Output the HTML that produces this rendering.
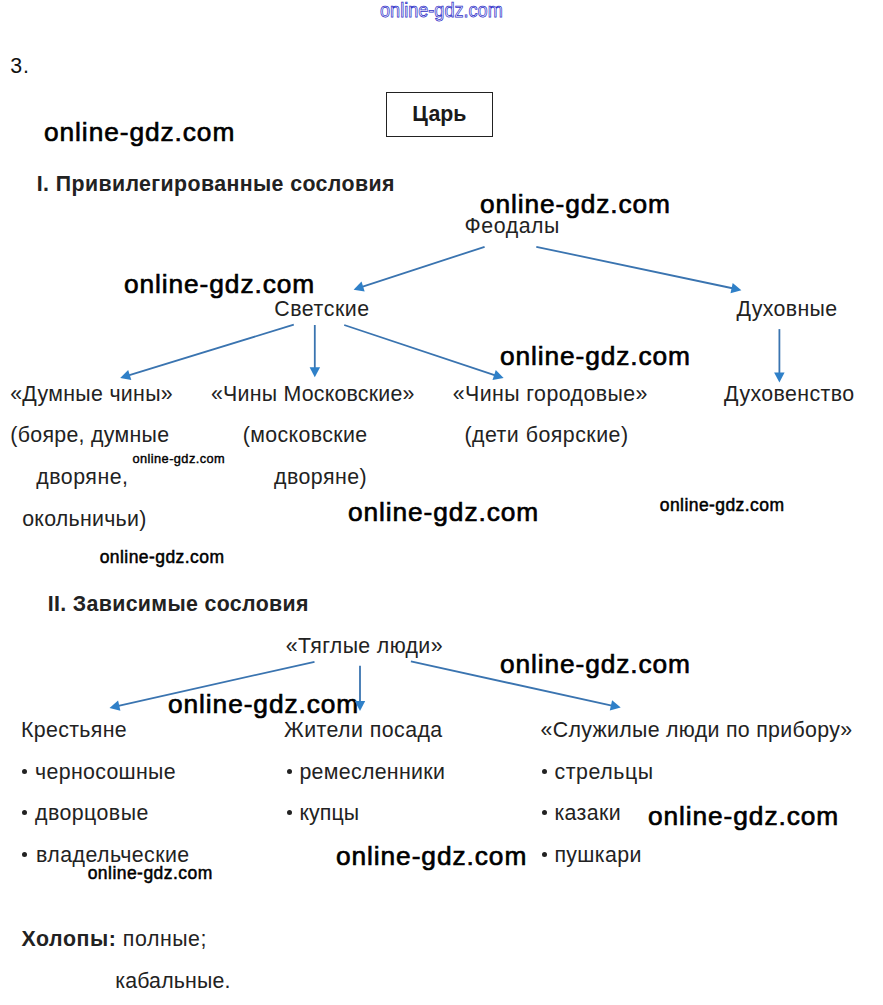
<!DOCTYPE html>
<html><head><meta charset="utf-8"><style>
html,body{margin:0;padding:0;background:#fff;}
body{width:883px;height:1005px;overflow:hidden;position:relative;font-family:"Liberation Sans",sans-serif;}
.t{position:absolute;font-size:21.33px;line-height:1;white-space:nowrap;color:#222;}
.b{font-weight:700;}
.w{position:absolute;line-height:1;white-space:nowrap;color:#000;font-weight:400;-webkit-text-stroke:0.7px #000;}
.dot{position:absolute;width:5.2px;height:5.2px;border-radius:50%;background:#222;}
.box{position:absolute;border:1.5px solid #222;box-sizing:border-box;}
svg{position:absolute;left:0;top:0;}
</style></head><body>

<div class="t" style="left:10.3px;top:55.6px;letter-spacing:0.900px;color:#111">3.</div>
<div class="t" style="left:412.3px;top:103.6px;letter-spacing:-0.133px;color:#1a1a1a"><span class="b">Царь</span></div>
<div class="t" style="left:36.8px;top:173.7px;letter-spacing:0.393px;color:#222"><span class="b">I. Привилегированные сословия</span></div>
<div class="t" style="left:464.6px;top:216.0px;letter-spacing:0.533px;color:#222">Феодалы</div>
<div class="t" style="left:274.2px;top:299.4px;letter-spacing:0.571px;color:#222">Светские</div>
<div class="t" style="left:736.5px;top:299.4px;letter-spacing:0.357px;color:#222">Духовные</div>
<div class="t" style="left:10.2px;top:383.5px;letter-spacing:0.308px;color:#222">«Думные чины»</div>
<div class="t" style="left:211.0px;top:383.5px;letter-spacing:0.231px;color:#222">«Чины Московские»</div>
<div class="t" style="left:452.7px;top:383.5px;letter-spacing:0.440px;color:#222">«Чины городовые»</div>
<div class="t" style="left:724.1px;top:383.5px;letter-spacing:0.400px;color:#222">Духовенство</div>
<div class="t" style="left:10.3px;top:425.2px;letter-spacing:0.300px;color:#222">(бояре, думные</div>
<div class="t" style="left:242.7px;top:425.2px;letter-spacing:0.380px;color:#222">(московские</div>
<div class="t" style="left:464.4px;top:425.2px;letter-spacing:0.500px;color:#222">(дети боярские)</div>
<div class="t" style="left:36.2px;top:466.7px;letter-spacing:0.529px;color:#222">дворяне,</div>
<div class="t" style="left:274.0px;top:466.7px;letter-spacing:0.486px;color:#222">дворяне)</div>
<div class="t" style="left:22.2px;top:508.7px;letter-spacing:0.280px;color:#222">окольничьи)</div>
<div class="t" style="left:47.7px;top:593.7px;letter-spacing:0.352px;color:#222"><span class="b">II. Зависимые сословия</span></div>
<div class="t" style="left:285.8px;top:635.6px;letter-spacing:0.367px;color:#222">«Тяглые люди»</div>
<div class="t" style="left:20.9px;top:719.7px;letter-spacing:0.363px;color:#222">Крестьяне</div>
<div class="t" style="left:284.0px;top:719.7px;letter-spacing:0.450px;color:#222">Жители посада</div>
<div class="t" style="left:540.6px;top:719.7px;letter-spacing:0.316px;color:#222">«Служилые люди по прибору»</div>
<div class="t" style="left:35.1px;top:761.7px;letter-spacing:0.320px;color:#222">черносошные</div>
<div class="t" style="left:35.0px;top:802.6px;letter-spacing:0.462px;color:#222">дворцовые</div>
<div class="t" style="left:36.0px;top:844.6px;letter-spacing:0.467px;color:#222">владельческие</div>
<div class="t" style="left:299.4px;top:761.7px;letter-spacing:0.318px;color:#222">ремесленники</div>
<div class="t" style="left:299.4px;top:802.6px;letter-spacing:0.100px;color:#222">купцы</div>
<div class="t" style="left:554.4px;top:761.7px;letter-spacing:0.600px;color:#222">стрельцы</div>
<div class="t" style="left:554.4px;top:802.6px;letter-spacing:0.380px;color:#222">казаки</div>
<div class="t" style="left:554.4px;top:844.6px;letter-spacing:0.383px;color:#222">пушкари</div>
<div class="t" style="left:21.5px;top:928.7px;letter-spacing:0.557px;color:#222"><span class="b">Холопы:</span> полные;</div>
<div class="t" style="left:115.2px;top:970.7px;letter-spacing:0.178px;color:#222">кабальные.</div>
<div class="dot" style="left:22.3px;top:769.0px"></div>
<div class="dot" style="left:22.3px;top:809.9px"></div>
<div class="dot" style="left:22.3px;top:851.9px"></div>
<div class="dot" style="left:286.8px;top:769.0px"></div>
<div class="dot" style="left:286.8px;top:809.9px"></div>
<div class="dot" style="left:541.8px;top:769.0px"></div>
<div class="dot" style="left:541.8px;top:809.9px"></div>
<div class="dot" style="left:541.8px;top:851.9px"></div>
<div class="box" style="left:386px;top:92px;width:106.5px;height:45.3px"></div>
<div class="w" style="left:44.0px;top:118.8px;font-size:26.3px;letter-spacing:0.923px;-webkit-text-stroke-width:0.65px">online-gdz.com</div>
<div class="w" style="left:479.9px;top:190.8px;font-size:26.3px;letter-spacing:0.900px;-webkit-text-stroke-width:0.65px">online-gdz.com</div>
<div class="w" style="left:123.9px;top:270.8px;font-size:26.3px;letter-spacing:0.923px;-webkit-text-stroke-width:0.65px">online-gdz.com</div>
<div class="w" style="left:499.9px;top:342.8px;font-size:26.3px;letter-spacing:0.900px;-webkit-text-stroke-width:0.65px">online-gdz.com</div>
<div class="w" style="left:132.4px;top:452.8px;font-size:12.8px;letter-spacing:0.431px;-webkit-text-stroke-width:0.4px">online-gdz.com</div>
<div class="w" style="left:347.9px;top:498.7px;font-size:26.3px;letter-spacing:0.923px;-webkit-text-stroke-width:0.65px">online-gdz.com</div>
<div class="w" style="left:659.8px;top:496.8px;font-size:17.5px;letter-spacing:0.423px;-webkit-text-stroke-width:0.5px">online-gdz.com</div>
<div class="w" style="left:99.7px;top:548.6px;font-size:17.5px;letter-spacing:0.431px;-webkit-text-stroke-width:0.5px">online-gdz.com</div>
<div class="w" style="left:499.9px;top:650.8px;font-size:26.3px;letter-spacing:0.900px;-webkit-text-stroke-width:0.65px">online-gdz.com</div>
<div class="w" style="left:168.0px;top:690.8px;font-size:26.3px;letter-spacing:0.915px;-webkit-text-stroke-width:0.65px">online-gdz.com</div>
<div class="w" style="left:647.9px;top:802.8px;font-size:26.3px;letter-spacing:0.923px;-webkit-text-stroke-width:0.65px">online-gdz.com</div>
<div class="w" style="left:335.9px;top:842.8px;font-size:26.3px;letter-spacing:0.931px;-webkit-text-stroke-width:0.65px">online-gdz.com</div>
<div class="w" style="left:87.7px;top:864.6px;font-size:17.5px;letter-spacing:0.454px;-webkit-text-stroke-width:0.5px">online-gdz.com</div>
<div style="position:absolute;left:380.0px;top:0.2px;font-size:20px;line-height:1;white-space:nowrap;color:#f4f4ff;-webkit-text-stroke:0.75px #3030c8;transform:scaleX(0.905);transform-origin:0 0">online-gdz.com</div>
<svg width="883" height="1005" viewBox="0 0 883 1005"><line x1="484.6" y1="246.8" x2="361.2" y2="287.2" stroke="#3a74b0" stroke-width="1.8"/><polygon points="353.6,289.7 361.5,281.6 364.7,291.6" fill="#2f80c8"/><line x1="536.3" y1="246.8" x2="733.6" y2="288.5" stroke="#3a74b0" stroke-width="1.8"/><polygon points="741.4,290.2 730.5,293.3 732.7,283.0" fill="#2f80c8"/><line x1="779.4" y1="329.1" x2="779.4" y2="374.4" stroke="#3a74b0" stroke-width="1.8"/><polygon points="779.4,382.4 774.1,372.4 784.6,372.4" fill="#2f80c8"/><line x1="293.8" y1="324.6" x2="127.8" y2="375.6" stroke="#3a74b0" stroke-width="1.8"/><polygon points="120.2,377.9 128.2,369.9 131.3,380.0" fill="#2f80c8"/><line x1="314.8" y1="325.0" x2="314.8" y2="369.2" stroke="#3a74b0" stroke-width="1.8"/><polygon points="314.8,377.2 309.6,367.2 320.1,367.2" fill="#2f80c8"/><line x1="344.2" y1="325.0" x2="496.0" y2="375.6" stroke="#3a74b0" stroke-width="1.8"/><polygon points="503.6,378.1 492.5,379.9 495.8,370.0" fill="#2f80c8"/><line x1="314.5" y1="661.8" x2="117.3" y2="706.1" stroke="#3a74b0" stroke-width="1.8"/><polygon points="109.5,707.9 118.1,700.6 120.4,710.8" fill="#2f80c8"/><line x1="360.0" y1="665.8" x2="360.0" y2="703.0" stroke="#3a74b0" stroke-width="1.8"/><polygon points="360.0,711.0 354.8,701.0 365.2,701.0" fill="#2f80c8"/><line x1="410.9" y1="661.4" x2="612.9" y2="705.9" stroke="#3a74b0" stroke-width="1.8"/><polygon points="620.7,707.6 609.8,710.6 612.1,700.3" fill="#2f80c8"/></svg>
</body></html>
